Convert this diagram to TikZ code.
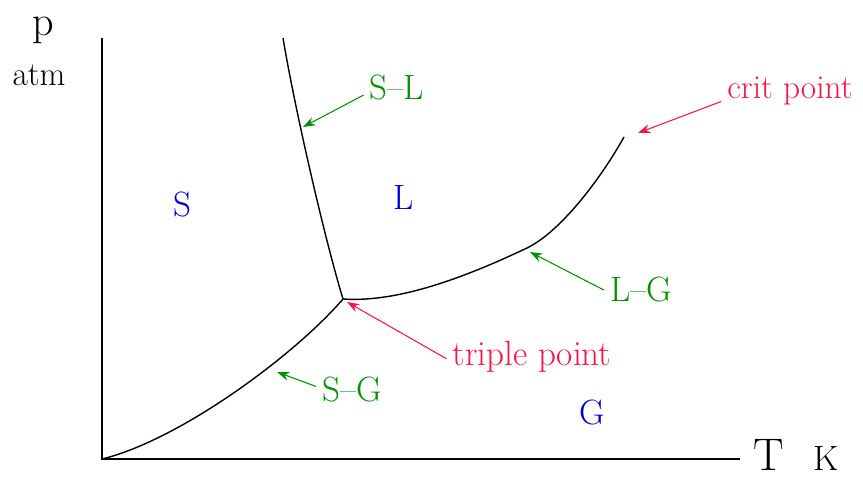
\documentclass[tikz,border=0pt]{standalone}
\usepackage{fontspec}
\usetikzlibrary{arrows.meta}
\definecolor{pgreen}{RGB}{0,145,0}
\definecolor{pred}{RGB}{250,20,70}
\definecolor{pblue}{RGB}{0,0,215}

\begin{document}
\begin{tikzpicture}[x=0.02cm,y=-0.02cm,
  phase/.style={font=\fontsize{20}{24}\selectfont,text=pblue},
  lbl/.style={font=\fontsize{20}{24}\selectfont},
  axlbl/.style={anchor=base,inner sep=0pt},
  axis/.style={black,line width=1.7pt},
  curve/.style={black,line width=0.8pt},
  garr/.style={-{Stealth[length=7pt,width=5pt]},pgreen,line width=0.6pt},
  rarr/.style={-{Stealth[length=7pt,width=5pt]},pred,line width=0.6pt}
]
\useasboundingbox (0,0) rectangle (863,479);

% axes
\coordinate (O)    at (102,459);
\coordinate (ytop) at (102,38);
\coordinate (xend) at (740,459);
\draw[axis] (ytop) -- (O) -- (xend);
\node[axlbl,font=\fontsize{24}{28}\selectfont] (p)   at (43,36) {p};
\node[axlbl,font=\fontsize{19}{22}\selectfont] (atm) at (39,86) {atm};
\node[axlbl,font=\fontsize{26}{30}\selectfont] (T)   at (769,471) {T};
\node[axlbl,font=\fontsize{20}{24}\selectfont] (K)   at (826,471) {K};

% phase boundaries
\coordinate (tp)   at (343,299);
\coordinate (kink) at (527,248);
\coordinate (crit) at (624,137);
\draw[curve] (O) .. controls (180,440) and (295,355) .. (tp);
\draw[curve] (283,38) .. controls (295,110) and (325,240) .. (tp);
\draw[curve] (tp) .. controls (400,303) and (470,275) .. (kink)
                  .. controls (560,232) and (600,180) .. (crit);

% regions
\node[phase] (S) at (182,205) {S};
\node[phase] (L) at (404,198) {L};
\node[phase] (G) at (592,413) {G};

% labels and arrows
\coordinate (slpt) at (303,127);
\coordinate (cppt) at (638,133);
\coordinate (lgpt) at (530,252);
\coordinate (tppt) at (347,302);
\coordinate (sgpt) at (277,372);

\node[lbl,text=pgreen] (sllbl) at (397,88)  {S--L};
\node[lbl,text=pred,font=\fontsize{19}{23}\selectfont] (critlbl) at (790,91) {crit point};
\node[lbl,text=pgreen] (lglbl) at (641,290) {L--G};
\node[lbl,text=pred] (tplbl) at (532,357) {triple point};
\node[lbl,text=pgreen] (sglbl) at (352,390) {S--G};

\draw[garr] ([yshift=-4pt]sllbl.west) -- (slpt);
\draw[rarr] ([yshift=-6pt]critlbl.west) -- (cppt);
\draw[garr] (lglbl.west) -- (lgpt);
\draw[rarr] ([yshift=-1pt]tplbl.west) -- (tppt);
\draw[garr] ([yshift=2pt]sglbl.west) -- (sgpt);
\end{tikzpicture}
\end{document}
